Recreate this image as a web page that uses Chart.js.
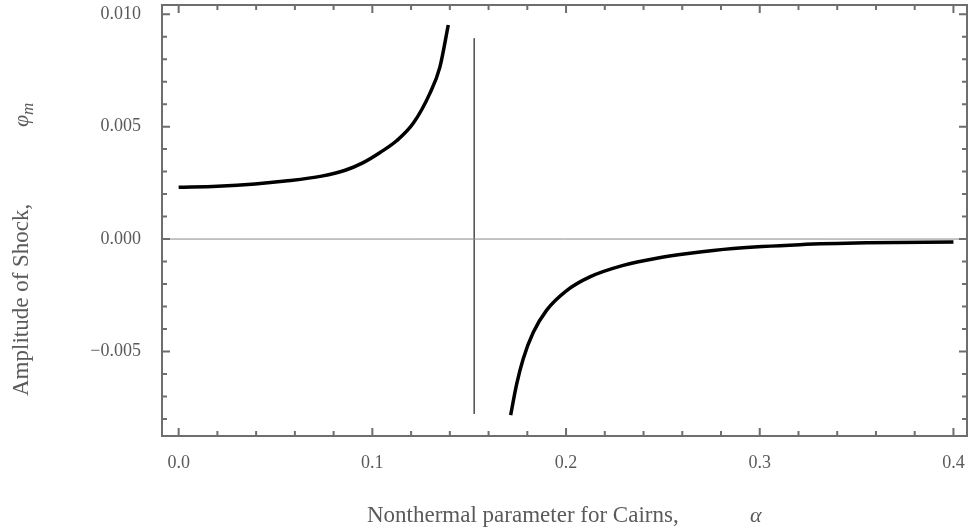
<!DOCTYPE html>
<html>
<head>
<meta charset="utf-8">
<script src="https://cdn.jsdelivr.net/npm/chart.js@4/dist/chart.umd.min.js"></script>
<style>
  body { margin: 0; background: #fff; }
  canvas { display: block; }
</style>
</head>
<body>
<canvas id="shock-chart" width="970" height="530"></canvas>
<script>
// 왼쪽 가지 (alpha < 임계값)
const alphaLeft = [0.000, 0.020, 0.0394, 0.055, 0.0738, 0.0860, 0.0953, 0.1040, 0.1125, 0.1211, 0.1297, 0.1349, 0.1392];
const phiLeft   = [0.00230, 0.00235, 0.00245, 0.00258, 0.00280, 0.00306, 0.00340, 0.00385, 0.00437, 0.00515, 0.00648, 0.00766, 0.00952];

// 오른쪽 가지 (alpha > 임계값)
const alphaRight = [0.1714, 0.1745, 0.1779, 0.1831, 0.1900, 0.2003, 0.2123, 0.2295, 0.2468, 0.2640, 0.2863, 0.3208, 0.3552, 0.4000];
const phiRight   = [-0.00783, -0.00645, -0.00532, -0.00415, -0.00316, -0.00229, -0.00168, -0.00117, -0.00085, -0.00063, -0.00042, -0.00025, -0.00017, -0.00013];

// 임계값 위치의 수직선
const alphaCrit = [0.1526, 0.1526];
const phiCrit   = [0.00893, -0.00778];

// 축 범위와 눈금
const xRange = [-0.0086, 0.407];
const yRange = [-0.00876, 0.01041];
const xTicks = [0.0, 0.1, 0.2, 0.3, 0.4];
const yTicks = [-0.005, 0.000, 0.005, 0.010];
const xMinorStep = 0.02;
const yMinorStep = 0.001;

const toPoints = (xs, ys) => xs.map((x, i) => ({ x: x, y: ys[i] }));

const GRAY = '#6e6e6e';
const TEXT = '#5a5a5a';
const FONT = 'Liberation Serif';

// 안쪽으로 향하는 눈금과 테두리, 축 제목을 그리는 플러그인
const framePlugin = {
    id: 'frame',
    afterDraw(chart) {
        const ctx = chart.ctx;
        const a = chart.chartArea;
        const xs = chart.scales.x;
        const ys = chart.scales.y;
        ctx.save();

        // 눈금
        ctx.strokeStyle = GRAY;
        ctx.lineWidth = 2;
        ctx.beginPath();
        const nx = Math.round((xRange[1] - xRange[0]) / xMinorStep) + 2;
        for (let i = -1; i < nx; i++) {
            const v = Math.round(i * xMinorStep * 1000) / 1000;
            if (v < xRange[0] || v > xRange[1]) continue;
            const px = xs.getPixelForValue(v);
            const major = xTicks.some(t => Math.abs(t - v) < 1e-9);
            const len = major ? 8 : 5;
            ctx.moveTo(px, a.bottom); ctx.lineTo(px, a.bottom - len);
            ctx.moveTo(px, a.top); ctx.lineTo(px, a.top + len);
        }
        const ny = Math.round((yRange[1] - yRange[0]) / yMinorStep) + 2;
        for (let i = -ny; i < ny; i++) {
            const v = Math.round(i * yMinorStep * 1e6) / 1e6;
            if (v < yRange[0] || v > yRange[1]) continue;
            const py = ys.getPixelForValue(v);
            const major = yTicks.some(t => Math.abs(t - v) < 1e-9);
            const len = major ? 8 : 5;
            ctx.moveTo(a.left, py); ctx.lineTo(a.left + len, py);
            ctx.moveTo(a.right, py); ctx.lineTo(a.right - len, py);
        }
        ctx.stroke();

        // 테두리
        ctx.strokeRect(a.left, a.top, a.right - a.left, a.bottom - a.top);

        // x축 제목
        ctx.fillStyle = TEXT;
        ctx.textBaseline = 'alphabetic';
        ctx.textAlign = 'left';
        ctx.font = '23px "' + FONT + '"';
        ctx.fillText('Nonthermal parameter for Cairns,', 367, 522);
        ctx.font = 'italic 22px "' + FONT + '"';
        ctx.fillText('α', 750, 522);

        // y축 제목 (회전)
        ctx.translate(28, 0);
        ctx.rotate(-Math.PI / 2);
        ctx.font = '23px "' + FONT + '"';
        ctx.fillText('Amplitude of Shock,', -396, 0);
        ctx.font = 'italic 22px "' + FONT + '"';
        ctx.fillText('φ', -127, 0);
        ctx.font = 'italic 17px "' + FONT + '"';
        ctx.fillText('m', -115, 5);
        ctx.restore();
    }
};

const ctx = document.getElementById('shock-chart').getContext('2d');

new Chart(ctx, {
    type: 'scatter',
    data: {
        datasets: [
            {
                // 0 기준선
                data: toPoints(xRange, [0, 0]),
                showLine: true,
                borderColor: '#8a8a8a',
                borderWidth: 1,
                pointRadius: 0
            },
            {
                data: toPoints(alphaCrit, phiCrit),
                showLine: true,
                borderColor: '#555555',
                borderWidth: 1,
                pointRadius: 0
            },
            {
                data: toPoints(alphaLeft, phiLeft),
                showLine: true,
                borderColor: '#000000',
                borderWidth: 3.5,
                pointRadius: 0,
                cubicInterpolationMode: 'monotone'
            },
            {
                data: toPoints(alphaRight, phiRight),
                showLine: true,
                borderColor: '#000000',
                borderWidth: 3.5,
                pointRadius: 0,
                cubicInterpolationMode: 'monotone'
            }
        ]
    },
    options: {
        responsive: false,
        animation: false,
        events: [],
        layout: { padding: { top: 5, right: 3, left: 0, bottom: 0 } },
        plugins: {
            legend: { display: false },
            tooltip: { enabled: false }
        },
        scales: {
            x: {
                type: 'linear',
                min: xRange[0],
                max: xRange[1],
                grid: { display: false, drawTicks: false },
                border: { display: false },
                afterBuildTicks: s => { s.ticks = xTicks.map(v => ({ value: v })); },
                afterFit: s => { s.height = 94; s.paddingLeft = 0; s.paddingRight = 0; },
                ticks: {
                    padding: 16,
                    color: TEXT,
                    font: { family: FONT, size: 18 },
                    maxRotation: 0,
                    callback: v => v.toFixed(1)
                }
            },
            y: {
                type: 'linear',
                min: yRange[0],
                max: yRange[1],
                grid: { display: false, drawTicks: false },
                border: { display: false },
                afterBuildTicks: s => { s.ticks = yTicks.map(v => ({ value: v })); },
                afterFit: s => { s.width = 162; s.paddingTop = 0; s.paddingBottom = 0; },
                ticks: {
                    padding: 21,
                    color: TEXT,
                    font: { family: FONT, size: 18 },
                    callback: v => (v < 0 ? '\u2212' : '') + Math.abs(v).toFixed(3)
                }
            }
        }
    },
    plugins: [framePlugin]
});
</script>
</body>
</html>
